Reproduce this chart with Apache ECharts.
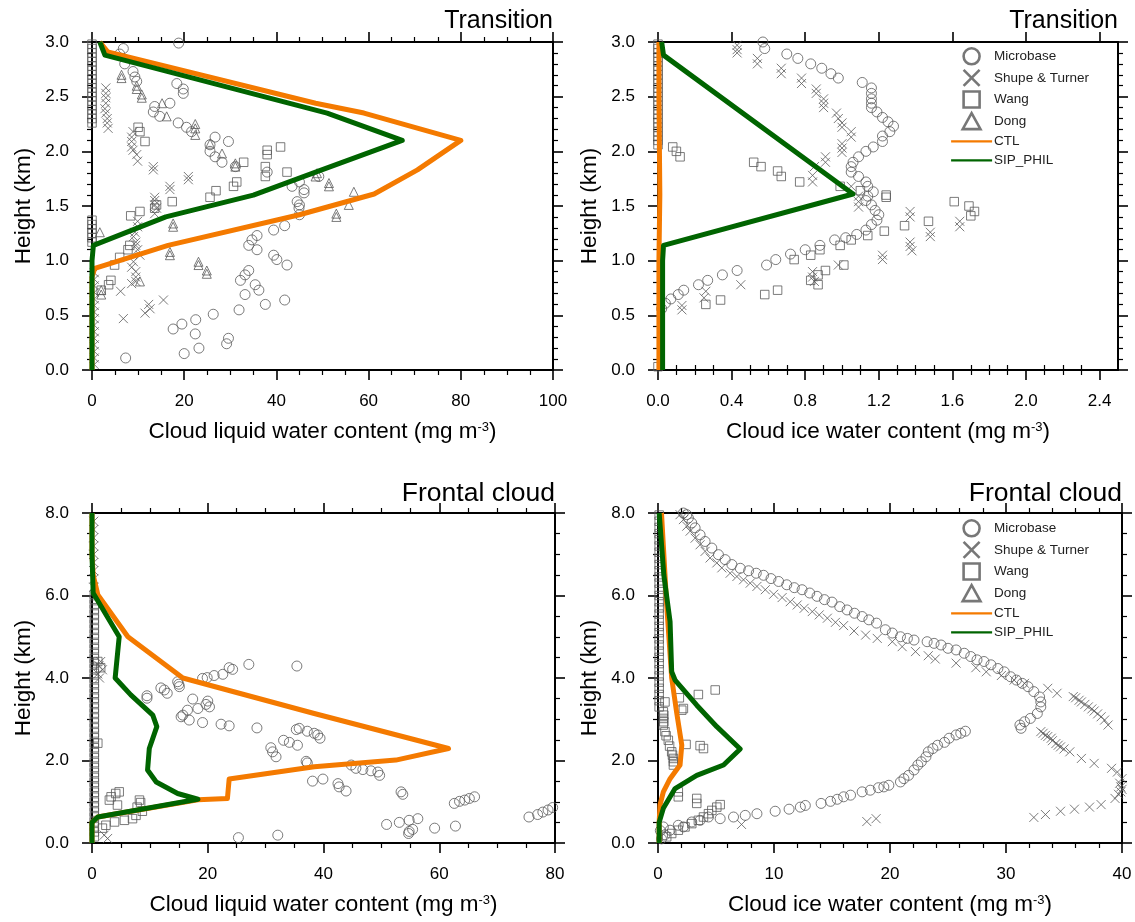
<!DOCTYPE html>
<html>
<head>
<meta charset="utf-8">
<script src="https://cdn.jsdelivr.net/npm/echarts@6/dist/echarts.min.js"></script>
<style>
  html, body { margin: 0; background: #fff; }
  #chart { width: 1135px; height: 922px; }
</style>
</head>
<body>
<div id="chart"></div>
<script>
// ---- data ----
const seriesNames = ['Microbase', 'Shupe & Turner', 'Wang', 'Dong', 'CTL', 'SIP_PHIL'];
const panelTitles = ['Transition', 'Transition', 'Frontal cloud', 'Frontal cloud'];

// top-left: transition, liquid
const tlMicrobase = [[18.8,2.99],[6.8,2.94],[6.0,2.89],[7.1,2.80],[8.9,2.73],[9.3,2.68],[9.7,2.64],[18.4,2.62],[19.8,2.57],[19.8,2.53],
  [16.9,2.44],[13.6,2.41],[13.3,2.36],[14.7,2.32],[18.7,2.26],[20.5,2.22],[21.6,2.18],[26.7,2.13],[29.6,2.09],[25.6,2.06],[25.6,2.0],
  [26.7,1.95],[28.2,1.90],[31.1,1.86],[38.0,1.81],[49.2,1.77],[45.0,1.72],[43.4,1.68],[46.0,1.65],[46.0,1.62],[44.5,1.54],[45.0,1.51],
  [44.9,1.48],[45.0,1.42],[41.8,1.32],[39.4,1.28],[35.8,1.23],[34.7,1.19],[34.0,1.14],[35.8,1.10],[39.4,1.05],[40.1,1.01],[42.3,0.96],
  [34.0,0.91],[33.2,0.87],[32.2,0.82],[35.4,0.78],[36.2,0.73],[33.2,0.69],[41.8,0.64],[37.6,0.60],[31.9,0.55],[26.3,0.51],[22.5,0.46],
  [19.5,0.42],[17.6,0.375],[22.4,0.33],[29.6,0.29],[29.2,0.24],[23.2,0.20],[20.0,0.15],[7.3,0.11]];
const tlShupe = [[3.0,2.58],[3.0,2.53],[3.0,2.49],[3.0,2.44],[2.8,2.39],[3.0,2.35],[3.3,2.30],[3.3,2.26],[3.5,2.21],
  [8.9,2.18],[8.6,2.13],[8.6,2.09],[8.6,2.04],[8.9,2.01],[9.7,1.97],[9.9,1.91],[13.3,1.86],[13.3,1.83],[20.9,1.77],[20.9,1.74],
  [16.9,1.68],[16.9,1.65],[13.6,1.58],[13.6,1.55],[13.6,1.51],[14.0,1.48],[13.6,1.43],[9.9,1.36],[9.9,1.31],[9.3,1.26],[9.0,1.22],
  [9.5,1.17],[9.5,1.14],[9.9,1.10],[10.4,1.05],[9.0,0.99],[8.6,0.94],[9.5,0.90],[9.5,0.85],[9.5,0.81],[8.6,0.79],[6.2,0.72],
  [15.5,0.64],[12.3,0.60],[12.6,0.56],[11.5,0.52],[6.8,0.47],
  [0.5,0.05],[0.5,0.11],[0.5,0.17],[0.5,0.23],[0.5,0.29],[0.5,0.35],[0.5,0.41],[0.5,0.47],[0.5,0.53],[0.5,0.59],[0.5,0.65],
  [0.5,0.71],[0.5,0.77],[0.5,0.83],[0.5,0.89]];
const tlWang = [[0,2.26],[0,2.30],[0,2.34],[0,2.38],[0,2.42],[0,2.46],[0,2.50],[0,2.54],[0,2.58],[0,2.62],[0,2.66],[0,2.70],
  [0,2.74],[0,2.78],[0,2.82],[0,2.86],[0,2.90],[0,2.94],[0,2.98],[0,1.17],[0,1.21],[0,1.25],[0,1.29],[0,1.33],[0,1.37],
  [10.0,2.22],[10.4,2.18],[11.5,2.09],[38.0,2.01],[38.0,1.97],[40.9,2.04],[32.9,1.90],[37.6,1.86],[37.6,1.77],[42.3,1.81],
  [31.4,1.72],[30.7,1.68],[26.9,1.64],[25.6,1.58],[17.4,1.54],[14.0,1.51],[13.6,1.48],[10.4,1.45],[8.4,1.41],[8.2,1.14],
  [7.8,1.10],[6.0,1.03],[4.9,0.96],[4.1,0.82],[3.6,0.78],[2.0,0.73]];
const tlDong = [[6.4,2.70],[6.4,2.67],[9.7,2.60],[9.7,2.57],[10.8,2.52],[10.8,2.49],[15.2,2.44],[16.2,2.32],[22.4,2.25],
  [22.4,2.21],[22.4,2.15],[25.6,2.07],[28.2,1.98],[31.1,1.89],[31.1,1.86],[48.5,1.77],[48.8,1.80],[51.4,1.71],[51.4,1.68],
  [56.8,1.63],[55.7,1.51],[53.0,1.43],[53.0,1.40],[17.6,1.34],[17.6,1.31],[1.7,1.26],[16.9,1.08],[16.9,1.05],[23.1,0.99],
  [23.1,0.96],[24.9,0.91],[24.9,0.88],[10.4,0.81],[2.0,0.73],[2.0,0.69]];
const tlCtl = [[0,0],[0,0.5],[0,0.85],[0.6,0.93],[16.5,1.14],[45,1.42],[61.2,1.61],[70.6,1.83],[80,2.1],[59,2.35],[48.5,2.44],[3.4,2.91],[1.7,3.0]];
const tlSip = [[0,0],[0,0.5],[0,1.0],[0.3,1.14],[16,1.40],[35,1.6],[48.5,1.81],[67.3,2.1],[51,2.35],[2.8,2.88],[1.7,3.0]];

// top-right: transition, ice
const trMicrobase = [[0.57,3.0],[0.58,2.94],[0.70,2.89],[0.76,2.85],[0.83,2.80],[0.89,2.76],[0.94,2.71],[0.98,2.67],[1.11,2.63],
  [1.16,2.58],[1.16,2.53],[1.16,2.48],[1.16,2.44],[1.16,2.40],[1.19,2.36],[1.22,2.31],[1.25,2.27],[1.28,2.23],[1.26,2.18],
  [1.22,2.14],[1.22,2.09],[1.17,2.04],[1.13,2.0],[1.09,1.95],[1.06,1.90],[1.05,1.86],[1.05,1.81],[1.09,1.77],[1.13,1.72],
  [1.14,1.68],[1.17,1.63],[1.14,1.59],[1.13,1.55],[1.16,1.51],[1.18,1.46],[1.20,1.42],[1.19,1.37],[1.16,1.33],[1.13,1.28],
  [1.08,1.24],[1.02,1.21],[0.96,1.19],[0.88,1.14],[0.80,1.10],[0.72,1.06],[0.64,1.01],[0.59,0.96],[0.43,0.91],[0.35,0.87],
  [0.27,0.82],[0.22,0.78],[0.14,0.73],[0.11,0.69],[0.07,0.65],[0.04,0.61],[0.02,0.56]];
const trShupe = [[0.43,2.97],[0.43,2.93],[0.43,2.90],[0.54,2.85],[0.54,2.80],[0.67,2.76],[0.67,2.71],[0.78,2.67],[0.78,2.62],
  [0.86,2.57],[0.86,2.53],[0.90,2.48],[0.90,2.44],[0.90,2.40],[0.97,2.35],[0.98,2.30],[1.0,2.26],[1.0,2.22],[1.05,2.18],
  [1.05,2.13],[1.0,2.07],[1.0,2.03],[1.0,1.99],[0.91,1.95],[0.91,1.90],[0.85,1.86],[0.84,1.78],[0.84,1.72],[1.05,1.68],
  [1.09,1.59],[1.09,1.54],[1.09,1.49],[1.37,1.45],[1.37,1.40],[1.64,1.36],[1.64,1.31],[1.48,1.26],[1.48,1.22],[1.37,1.17],
  [1.37,1.13],[1.38,1.09],[1.22,1.05],[1.22,1.01],[0.98,0.96],[0.84,0.90],[0.84,0.85],[0.85,0.81],[0.45,0.78],[0.26,0.72],
  [0.25,0.66],[0.13,0.59],[0.13,0.55]];
const trWang = [[0,2.06],[0,2.10],[0,2.14],[0,2.18],[0,2.22],[0,2.26],[0,2.30],[0,2.34],[0,2.38],[0,2.42],[0,2.46],[0,2.50],
  [0,2.54],[0,2.58],[0,2.62],[0,2.66],[0,2.70],[0,2.74],[0,2.78],[0,2.82],[0,2.86],[0,2.90],[0,2.94],[0,2.98],
  [0.08,2.04],[0.10,2.0],[0.12,1.95],[0.52,1.90],[0.56,1.86],[0.65,1.82],[0.67,1.77],[0.77,1.72],[0.99,1.68],[1.10,1.64],
  [1.24,1.60],[1.24,1.58],[1.61,1.54],[1.69,1.50],[1.72,1.45],[1.70,1.41],[1.47,1.36],[1.34,1.32],[1.23,1.27],[1.14,1.23],
  [1.05,1.19],[0.99,1.14],[0.88,1.10],[0.83,1.05],[0.74,1.01],[1.01,0.96],[0.91,0.91],[0.87,0.87],[0.83,0.82],[0.87,0.78],
  [0.65,0.73],[0.58,0.69],[0.34,0.64],[0.26,0.60],[0,0.03]];
const trDong = [];
const trCtl = [[0.005,0],[0.005,1.0],[0.01,1.6],[0.005,2.5],[0.005,3.0]];
const trSip = [[0.025,0],[0.025,1.0],[0.03,1.14],[1.06,1.61],[0.03,2.88],[0.02,3.0]];

// bottom-left: frontal, liquid
const blMicrobase = [[27.1,4.33],[35.4,4.29],[23.7,4.25],[24.3,4.21],[22.6,4.09],[21.1,4.06],[19.9,4.01],[19.1,3.99],[14.8,3.91],
  [15.0,3.85],[15.1,3.79],[11.9,3.76],[12.5,3.71],[13.0,3.63],[9.5,3.57],[9.5,3.51],[17.4,3.49],[20.0,3.44],[19.7,3.36],
  [20.3,3.30],[18.3,3.26],[16.5,3.22],[15.7,3.10],[15.4,3.06],[16.8,2.98],[19.1,2.92],[22.3,2.88],[23.7,2.84],[28.5,2.79],
  [35.3,2.75],[35.8,2.78],[37.2,2.71],[38.4,2.66],[39.0,2.62],[39.4,2.54],[33.1,2.49],[34.1,2.44],[35.5,2.37],[30.9,2.31],
  [31.2,2.21],[31.8,2.09],[37.0,1.98],[37.2,1.94],[44.8,1.89],[45.6,1.81],[46.8,1.78],[48.2,1.75],[49.4,1.72],[49.7,1.64],
  [38.1,1.50],[39.9,1.55],[42.5,1.44],[42.7,1.36],[43.9,1.26],[53.4,1.24],[53.7,1.18],[62.6,0.96],[63.5,1.01],[64.4,1.04],
  [65.2,1.08],[66.1,1.12],[50.9,0.45],[53.1,0.50],[54.8,0.55],[56.3,0.59],[54.8,0.28],[54.7,0.23],[55.4,0.33],[59.2,0.36],
  [62.8,0.41],[75.5,0.63],[77.0,0.69],[77.9,0.75],[78.8,0.80],[79.6,0.86],[25.3,0.13],[32.1,0.19]];
const blShupe = [[2.1,0.19],[2.7,0.11],[1.5,4.4],[1.2,4.3],[1.8,4.2],[1.0,4.1],[1.3,4.0],
  [0.3,6.2],[0.3,6.4],[0.3,6.6],[0.3,6.8],[0.3,7.0],[0.3,7.2],[0.3,7.4],[0.3,7.6],[0.3,7.8]];
const blWang = [[4.7,1.24],[4.1,1.20],[3.3,1.12],[3.0,1.04],[4.4,0.92],[8.2,1.04],[8.4,0.98],[7.8,0.87],[8.7,0.77],[7.6,0.67],
  [7.0,0.59],[5.6,0.55],[3.9,0.51],[2.4,0.43],[1.8,0.36],[1.0,2.42],[1.0,4.40],[1.5,4.25],
  [0.4,0.15],[0.4,0.27],[0.4,0.39],[0.4,0.51],[0.4,0.63],[0.4,0.75],[0.4,0.87],[0.4,0.99],[0.4,1.11],[0.4,1.23],[0.4,1.35],
  [0.4,1.47],[0.4,1.59],[0.4,1.71],[0.4,1.83],[0.4,1.95],[0.4,2.07],[0.4,2.19],[0.4,2.31],[0.4,2.43],[0.4,2.55],[0.4,2.67],
  [0.4,2.79],[0.4,2.91],[0.4,3.03],[0.4,3.15],[0.4,3.27],[0.4,3.39],[0.4,3.51],[0.4,3.63],[0.4,3.75],[0.4,3.87],[0.4,3.99],
  [0.4,4.11],[0.4,4.23],[0.4,4.35],[0.4,4.47],[0.4,4.59],[0.4,4.71],[0.4,4.83],[0.4,4.95],[0.4,5.07],[0.4,5.19],[0.4,5.31],
  [0.4,5.43],[0.4,5.55],[0.4,5.67],[0.4,5.79],[0.4,5.91],[0.4,6.03]];
const blDong = [];
const blCtl = [[0,0],[0,0.5],[1.0,0.63],[18.3,1.05],[23.4,1.08],[23.7,1.55],[38.4,1.85],[52.5,2.01],[61.6,2.29],[38.4,3.14],
  [15.7,4.0],[6.2,5.0],[1.0,6.02],[0.2,6.5],[0,7],[0,8]];
const blSip = [[0,0],[0,0.5],[1.0,0.63],[18.3,1.06],[14.8,1.20],[11.1,1.48],[9.6,1.77],[9.9,2.29],[11.2,2.82],[10.5,3.10],
  [6.7,3.59],[4.0,4.0],[4.7,5.0],[0.2,6.06],[0,7],[0,8]];

// bottom-right: frontal, ice
const brMicrobase = [[2.19,8.0],[2.48,7.96],[2.62,7.88],[2.91,7.76],[3.2,7.64],[3.63,7.47],[4.06,7.31],[4.64,7.15],[5.21,6.99],
  [5.79,6.87],[6.37,6.75],[7.09,6.66],[7.81,6.60],[8.47,6.54],[9.10,6.49],[9.74,6.41],[10.4,6.34],[11.1,6.26],[11.75,6.19],
  [12.42,6.14],[13.08,6.06],[13.71,5.98],[14.35,5.90],[15.0,5.84],[15.67,5.73],[16.3,5.65],[16.94,5.57],[17.6,5.49],[18.18,5.41],
  [18.84,5.33],[19.6,5.17],[20.2,5.09],[20.9,5.0],[21.5,4.96],[22.07,4.92],[23.2,4.88],[23.8,4.84],[24.4,4.80],[25.0,4.72],
  [25.7,4.68],[26.4,4.60],[26.96,4.52],[27.5,4.44],[28.1,4.40],[28.7,4.32],[29.3,4.23],[29.85,4.15],[30.4,4.03],[30.9,3.95],
  [31.4,3.87],[31.9,3.79],[32.4,3.67],[32.9,3.54],[33.0,3.42],[33.0,3.30],[32.7,3.14],[32.1,3.02],[31.6,2.94],[31.2,2.86],[31.3,2.78],
  [0.46,0.39],[1.04,0.31],[1.75,0.43],[2.19,0.39],[2.91,0.51],[3.63,0.55],[4.35,0.63],[5.36,0.59],[6.51,0.63],[7.52,0.67],
  [8.53,0.71],[10.1,0.77],[11.3,0.82],[12.27,0.87],[12.7,0.91],[14.06,0.96],[14.87,1.01],[15.45,1.06],[16.0,1.12],[16.6,1.16],
  [17.6,1.24],[18.3,1.28],[19.0,1.34],[19.47,1.36],[19.9,1.40],[20.9,1.48],[21.2,1.56],[21.6,1.64],[22.07,1.77],[22.4,1.89],
  [22.7,1.97],[23.1,2.09],[23.3,2.21],[23.7,2.29],[24.1,2.37],[24.7,2.44],[25.1,2.54],[25.7,2.62],[26.1,2.66],[26.5,2.71],
  [0.3,0.1],[0.6,0.2],[0.2,0.3]];
const brShupe = [[1.9,7.96],[2.19,7.84],[2.48,7.68],[2.77,7.56],[3.2,7.39],[3.63,7.23],[4.06,7.07],[4.49,6.91],[5.07,6.79],
  [5.5,6.67],[6.22,6.54],[6.8,6.46],[7.37,6.38],[7.95,6.30],[8.53,6.22],[9.25,6.14],[9.97,6.03],[10.7,5.95],[11.4,5.85],
  [12.0,5.77],[12.6,5.69],[13.3,5.61],[13.9,5.53],[14.6,5.45],[15.3,5.35],[16.0,5.27],[16.9,5.14],[17.9,5.04],[18.9,4.96],
  [20.2,4.88],[21.05,4.76],[22.2,4.64],[23.3,4.54],[23.9,4.46],[25.7,4.36],[27.4,4.25],[28.3,4.15],[29.6,4.06],[30.7,3.95],
  [31.6,3.87],[33.6,3.75],[34.4,3.63],[35.8,3.55],[36.0,3.52],[36.3,3.46],[36.5,3.42],[36.8,3.36],[37.1,3.30],[37.4,3.25],
  [37.6,3.20],[37.9,3.13],[38.2,3.06],[38.5,2.98],[38.8,2.86],
  [33.0,2.70],[33.2,2.66],[33.4,2.61],[33.6,2.58],[33.9,2.54],[34.0,2.48],[34.3,2.41],[34.5,2.37],[34.7,2.33],[35.0,2.28],
  [35.5,2.21],[36.5,2.05],[37.6,1.93],[39.1,1.81],[39.6,1.72],[39.8,1.45],[40.0,1.56],[40.0,1.30],[39.9,1.36],[39.9,1.24],
  [39.7,1.18],[39.4,1.08],[38.2,0.93],[37.2,0.87],[35.9,0.82],[34.7,0.77],[33.4,0.69],[32.4,0.62],
  [18.0,0.52],[18.8,0.59],[7.2,0.45]];
const brWang = [[4.93,3.71],[3.48,3.60],[1.84,3.52],[2.19,3.26],[2.05,3.22],[2.42,2.39],[3.63,2.36],[3.92,2.29],[0.6,3.42],
  [0.46,3.18],[0.5,3.1],[0.46,3.02],[0.5,2.94],[0.46,2.86],[0.6,2.70],[0.7,2.6],[0.89,2.49],[1.0,2.35],[1.18,2.21],[1.25,2.13],
  [1.33,2.05],[1.33,1.97],[1.33,1.89],[1.75,1.24],[1.75,1.12],[3.34,1.08],[3.34,0.96],[5.36,0.93],[5.07,0.87],[4.64,0.79],
  [4.35,0.71],[3.92,0.63],[3.48,0.55],[2.91,0.47],[2.33,0.39],[1.75,0.31],[1.18,0.23],[0.75,0.15],
  [0.1,3.3],[0.1,3.45],[0.1,3.6],[0.1,3.75],[0.1,3.9],[0.1,4.05],[0.1,4.2],[0.1,4.35],[0.1,4.5],[0.1,4.65],[0.1,4.8],
  [0.1,4.95],[0.1,5.1],[0.1,5.25],[0.1,5.4],[0.1,5.55],[0.1,5.7],[0.1,5.85],[0.1,6.0],[0.1,6.15],[0.1,6.3],[0.1,6.45],
  [0.1,6.6],[0.1,6.75],[0.1,6.9],[0.1,7.05],[0.1,7.2],[0.1,7.35],[0.1,7.5],[0.1,7.65],[0.1,7.8],[0.1,7.95]];
const brDong = [];
const brCtl = [[0.1,0],[0.1,0.5],[0.17,0.92],[0.46,1.24],[1.04,1.56],[1.9,1.89],[2.05,2.37],[1.6,3.18],[1.18,4.0],[0.75,5.77],[0.3,8.0]];
const brSip = [[0.1,0],[0.1,0.5],[0.46,0.84],[1.47,1.32],[3.34,1.64],[5.65,1.89],[7.09,2.28],[5.07,2.82],[3.34,3.34],[1.47,3.95],
  [1.18,4.15],[1.04,5.37],[0.5,6.5],[0.1,8.0]];

// tick labels
const tlXTicks = [0, 20, 40, 60, 80, 100];
const trXTicks = [0, 0.4, 0.8, 1.2, 1.6, 2.0, 2.4];
const trXMinor = [0.1,0.2,0.3,0.5,0.6,0.7,0.9,1.0,1.1,1.3,1.4,1.5,1.7,1.8,1.9,2.1,2.2,2.3];
const blXTicks = [0, 20, 40, 60, 80];
const brXTicks = [0, 10, 20, 30, 40];
const topYTicks = [0, 0.5, 1.0, 1.5, 2.0, 2.5, 3.0];
const botYTicks = [0, 2, 4, 6, 8];

// ---- layout / style ----
const FONT = '"Liberation Sans", Arial, Helvetica, sans-serif';
const GREY = '#5a5a5a';
const ORANGE = '#f47a00';
const GREEN = '#006400';
const X_SYM = 'path://M0,0L10,10M10,0L0,10';
const SQ_SYM = 'path://M0,0L10,0L10,10L0,10Z';
const TRI_SYM = 'path://M5,0L10,9L0,9Z';

const liqName = '{n|Cloud liquid water content (mg m}{s|-3}{n|)}';
const iceName = '{n|Cloud ice water content (mg m}{s|-3}{n|)}';

const panels = [
  { grid: { left: 92, top: 42, width: 461, height: 328 }, xName: liqName, titleSize: 25,
    x: { max: 100, interval: 20, minor: 4, ticks: tlXTicks, fmt: v => String(v) },
    y: { max: 3, interval: 0.5, minor: 5, ticks: topYTicks },
    data: [tlMicrobase, tlShupe, tlWang, tlDong, tlCtl, tlSip] },
  { grid: { left: 658, top: 42, width: 460, height: 328 }, xName: iceName, titleSize: 25,
    x: { max: 2.5, interval: 0.4, ticks: trXTicks, minorValues: trXMinor, fmt: v => v.toFixed(1) },
    y: { max: 3, interval: 0.5, minor: 5, ticks: topYTicks },
    data: [trMicrobase, trShupe, trWang, trDong, trCtl, trSip], legendTop: 47 },
  { grid: { left: 92, top: 513, width: 463, height: 330 }, xName: liqName, titleSize: 26.5,
    x: { max: 80, interval: 20, minor: 4, ticks: blXTicks, fmt: v => String(v) },
    y: { max: 8, interval: 2, minor: 4, ticks: botYTicks },
    data: [blMicrobase, blShupe, blWang, blDong, blCtl, blSip] },
  { grid: { left: 658, top: 513, width: 464, height: 330 }, xName: iceName, titleSize: 26.5,
    x: { max: 40, interval: 10, minor: 5, ticks: brXTicks, fmt: v => String(v) },
    y: { max: 8, interval: 2, minor: 4, ticks: botYTicks },
    data: [brMicrobase, brShupe, brWang, brDong, brCtl, brSip], legendTop: 519 }
];

const axisLine = { show: true, onZero: false, lineStyle: { color: '#000', width: 2 } };
const majorTick = { show: true, inside: false, length: 10, lineStyle: { color: '#000', width: 1.6 } };
const minorTickStyle = { length: 5, lineStyle: { color: '#000', width: 1.2 } };
const labelStyle = { color: '#000', fontFamily: FONT, fontSize: 17, margin: 23 };
const nameStyle = {
  color: '#000', fontFamily: FONT, fontSize: 22.5,
  rich: {
    n: { color: '#000', fontFamily: FONT, fontSize: 22.5 },
    s: { color: '#000', fontFamily: FONT, fontSize: 13, verticalAlign: 'middle', padding: [0, 0, 9, 0] }
  }
};

const grids = [], xAxes = [], yAxes = [], series = [], titles = [], legends = [];

panels.forEach((p, gi) => {
  grids.push(Object.assign({ containLabel: false, outerBoundsMode: 'none' }, p.grid));

  // x axes: bottom (labelled) and top (mirror)
  const xBase = {
    type: 'value', gridIndex: gi, min: 0, max: p.x.max, interval: p.x.interval,
    splitLine: { show: false }, axisLine: axisLine
  };
  ['bottom', 'top'].forEach(pos => {
    const ax = Object.assign({}, xBase, {
      position: pos,
      axisTick: Object.assign({}, majorTick),
      minorTick: Object.assign({ show: !!p.x.minor, splitNumber: p.x.minor || 4 }, minorTickStyle),
      axisLabel: Object.assign({}, labelStyle, { show: pos === 'bottom', formatter: p.x.fmt })
    });
    if (p.x.minorValues) {
      ax.axisTick.customValues = p.x.ticks;
      ax.axisLabel.customValues = p.x.ticks;
    }
    if (pos === 'bottom') {
      ax.name = p.xName;
      ax.nameLocation = 'middle';
      ax.nameGap = 50;
      ax.nameTextStyle = nameStyle;
    }
    xAxes.push(ax);
    if (p.x.minorValues) {
      xAxes.push(Object.assign({}, xBase, {
        position: pos, interval: 0.1, axisLine: { show: false },
        axisTick: Object.assign({ show: true, inside: false, customValues: p.x.minorValues }, minorTickStyle),
        axisLabel: { show: false }
      }));
    }
  });
  const xIndex = xAxes.findIndex(a => a.gridIndex === gi && a.position === 'bottom');

  ['left', 'right'].forEach(pos => {
    const ax = {
      type: 'value', gridIndex: gi, position: pos, min: 0, max: p.y.max, interval: p.y.interval,
      splitLine: { show: false }, axisLine: axisLine,
      axisTick: Object.assign({}, majorTick),
      minorTick: Object.assign({ show: true, splitNumber: p.y.minor }, minorTickStyle),
      axisLabel: Object.assign({}, labelStyle, { show: pos === 'left', formatter: v => v.toFixed(1) })
    };
    if (pos === 'left') {
      ax.name = 'Height (km)';
      ax.nameLocation = 'middle';
      ax.nameGap = 57;
      ax.nameTextStyle = { color: '#000', fontFamily: FONT, fontSize: 22.5 };
    }
    yAxes.push(ax);
  });
  const yIndex = yAxes.findIndex(a => a.gridIndex === gi && a.position === 'left');

  const symbols = [['circle', 10], [X_SYM, 9], [SQ_SYM, 8.5], [TRI_SYM, 9]];
  symbols.forEach(([sym, size], k) => {
    series.push({
      type: 'scatter', name: seriesNames[k], data: p.data[k], xAxisIndex: xIndex, yAxisIndex: yIndex,
      symbol: sym, symbolSize: size, silent: true, z: 2,
      itemStyle: { color: 'rgba(0,0,0,0)', borderColor: GREY, borderWidth: 1 }
    });
  });
  [[4, ORANGE], [5, GREEN]].forEach(([k, col]) => {
    series.push({
      type: 'line', name: seriesNames[k], data: p.data[k], xAxisIndex: xIndex, yAxisIndex: yIndex,
      symbol: 'none', showSymbol: false, clip: false, silent: true, z: 3 + k,
      lineStyle: { color: col, width: 5, join: 'round' }, itemStyle: { color: col }
    });
  });

  titles.push({
    text: panelTitles[gi], right: 1135 - p.grid.left - p.grid.width, top: p.grid.top - 33, padding: 0,
    textStyle: { fontFamily: FONT, fontSize: p.titleSize, fontWeight: 'normal', color: '#000' }
  });

  if (p.legendTop !== undefined) {
    const mk = (name, icon) => ({
      name, icon, itemStyle: { color: 'rgba(0,0,0,0)', borderColor: '#555', borderWidth: 2.6 }
    });
    const ln = name => ({ name, itemStyle: { opacity: 0 }, lineStyle: { width: 2.2, opacity: 1 } });
    legends.push({
      orient: 'vertical', left: 950, top: p.legendTop, padding: 0,
      itemWidth: 41, itemHeight: 16, itemGap: 3, selectedMode: false,
      textStyle: { fontFamily: FONT, fontSize: 13.5, lineHeight: 16, color: '#222', padding: [0, 0, 0, -3] },
      data: [mk('Microbase', 'circle'), mk('Shupe & Turner', X_SYM), mk('Wang', SQ_SYM), mk('Dong', TRI_SYM),
        ln('CTL'), ln('SIP_PHIL')]
    });
  }
});

const chart = echarts.init(document.getElementById('chart'), null, { renderer: 'canvas' });
chart.setOption({
  animation: false,
  backgroundColor: '#fff',
  title: titles,
  legend: legends,
  grid: grids,
  xAxis: xAxes,
  yAxis: yAxes,
  series: series
});
</script>
</body>
</html>
